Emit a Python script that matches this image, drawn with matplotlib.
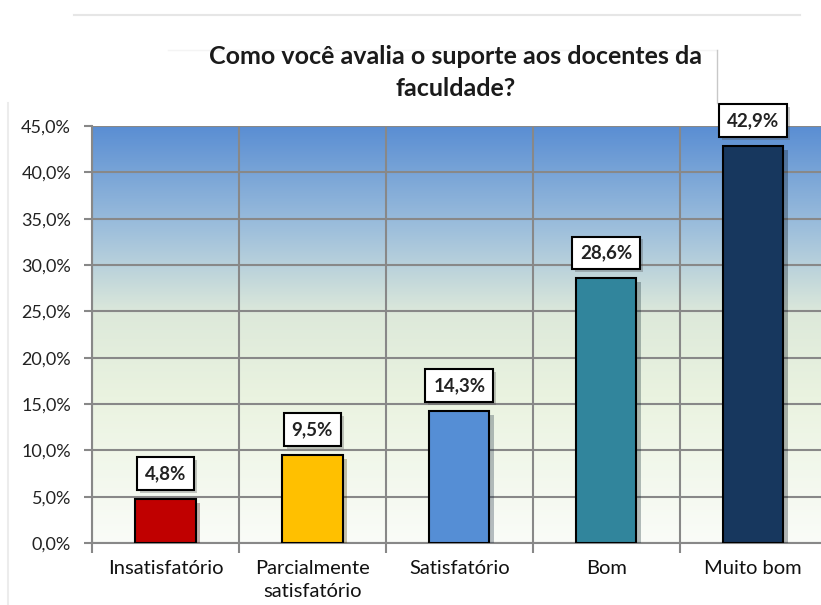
import numpy as np
import matplotlib.pyplot as plt
import matplotlib.patheffects as pe
from matplotlib.colors import LinearSegmentedColormap

categories = ["Insatisfatório", "Parcialmente\nsatisfatório", "Satisfatório", "Bom", "Muito bom"]
values = [4.8, 9.5, 14.3, 28.6, 42.9]
labels = ["4,8%", "9,5%", "14,3%", "28,6%", "42,9%"]
colors = ["#c00000", "#ffc000", "#558ed5", "#31859c", "#17375e"]
yticks = [0, 5, 10, 15, 20, 25, 30, 35, 40, 45]

plt.rcParams["font.family"] = ["Lato", "DejaVu Sans"]

fig = plt.figure(figsize=(8.21, 6.05), dpi=100)
ax = fig.add_axes([0.112, 0.1025, 0.895, 0.689])

# gradient background: blue top, pale green middle, near white bottom
cmap = LinearSegmentedColormap.from_list(
    "bg", [(0.0, "#fafcf8"), (0.35, "#eaf3e0"), (0.55, "#dde9da"),
           (0.75, "#9fc0dc"), (1.0, "#5a8ed3")]
)
grad = np.linspace(0, 1, 256).reshape(-1, 1)
ax.imshow(grad, extent=[-0.5, 4.5, 0, 45], origin="lower", aspect="auto",
          cmap=cmap, zorder=0)

x = np.arange(len(categories))
shadow = [pe.SimplePatchShadow(offset=(3, -3), alpha=0.3), pe.Normal()]
bars = ax.bar(x, values, width=0.41, color=colors, edgecolor="black",
              linewidth=1.5, zorder=3)
for b in bars:
    b.set_path_effects(shadow)

for xi, v, lab in zip(x, values, labels):
    ax.annotate(lab, (xi, v), xytext=(0, 12), textcoords="offset points",
                ha="center", va="bottom", fontsize=13.5, fontweight="bold",
                color="#222222", zorder=5,
                bbox=dict(boxstyle="square,pad=0.42", fc="white", ec="black", lw=1.5,
                          path_effects=[pe.SimplePatchShadow(offset=(2, -2), alpha=0.3),
                                        pe.Normal()]))

ax.set_xlim(-0.5, 4.5)
ax.set_ylim(0, 45)
ax.set_yticks(yticks)
ax.set_yticklabels([f"{t},0%" for t in yticks], fontsize=13, color="#222222")
ax.set_xticks(x)
ax.set_xticklabels(categories, fontsize=14.5, color="#111111", linespacing=1.45)
ax.set_xticks(np.arange(-0.5, 5, 1), minor=True)
ax.tick_params(axis="x", which="major", length=0, pad=12)
ax.tick_params(axis="x", which="minor", length=7, color="#888888", width=1.5)
ax.tick_params(axis="y", length=6, color="#888888", width=1.5, pad=9)

ax.grid(True, axis="y", color="#888888", lw=1.5, zorder=1)
ax.grid(True, axis="x", which="minor", color="#888888", lw=1.5, zorder=1)
ax.set_axisbelow(True)
for side in ["top", "right"]:
    ax.spines[side].set_visible(False)
for side in ["left", "bottom"]:
    ax.spines[side].set_color("#888888")
    ax.spines[side].set_linewidth(1.5)

fig.text(0.555, 0.880, "Como você avalia o suporte aos docentes da\nfaculdade?",
         ha="center", va="center", fontsize=18, fontweight="bold",
         linespacing=1.5, color="#1a1a1a")

# faint chart-area and title-box frame lines
fig.add_artist(plt.Line2D([0.09, 0.975], [0.975, 0.975], color="#e6e6e6", lw=1.5))
fig.add_artist(plt.Line2D([0.01, 0.01], [0.0, 0.83], color="#ececec", lw=1.5))
fig.add_artist(plt.Line2D([0.205, 0.873], [0.918, 0.918], color="#f4f4f4", lw=1.0))
fig.add_artist(plt.Line2D([0.873, 0.873], [0.83, 0.918], color="#c8c8c8", lw=1.0))

fig.savefig("out.png", dpi=100)
